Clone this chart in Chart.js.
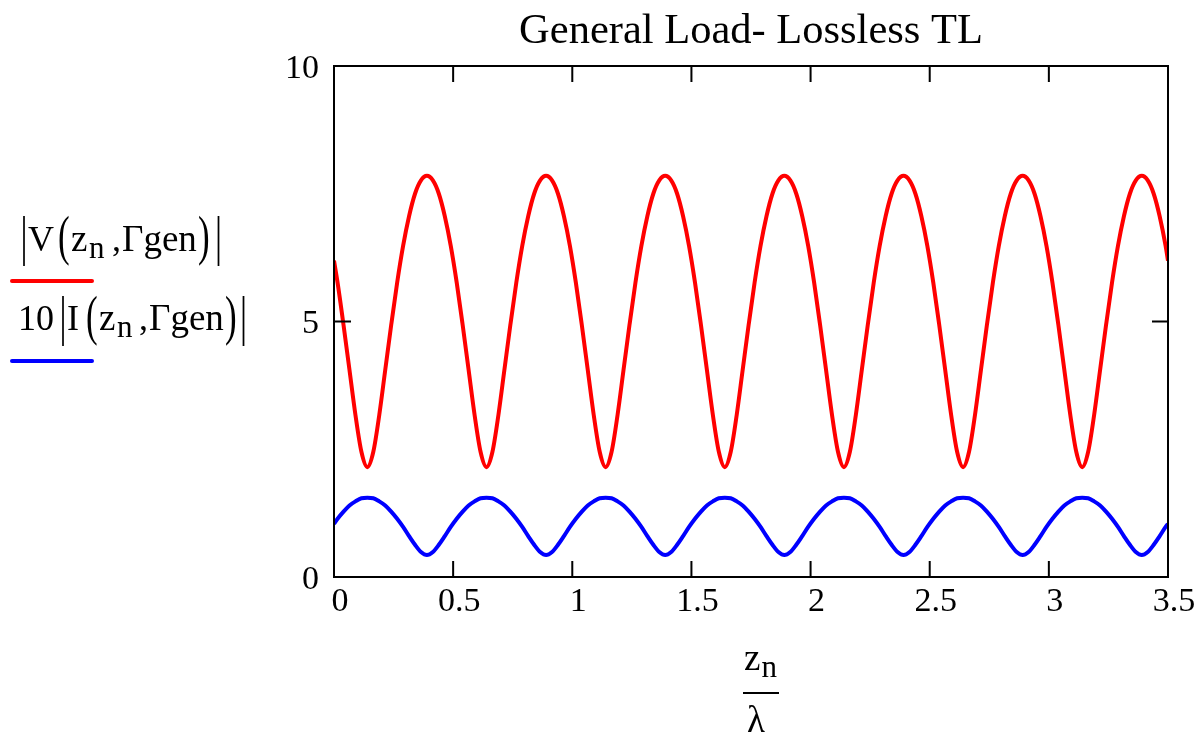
<!DOCTYPE html>
<html lang="en">
<head>
    <meta charset="UTF-8">
    <title>General Load- Lossless TL</title>
    <script src="https://cdn.jsdelivr.net/npm/chart.js"></script>
    <style>
        body {
            margin: 0;
            background-color: #ffffff;
        }
        .wrap {
            width: 1198px;
            height: 738px;
        }
    </style>
</head>
<body>
    <div class="wrap">
        <canvas id="tlChart"></canvas>
    </div>

    <script>
        const chartTitle = "General Load- Lossless TL";
        const xTicks = [0, 0.5, 1, 1.5, 2, 2.5, 3, 3.5];
        const yTicks = [0, 5, 10];

        // z_n / lambda
        const zValues = [
            0,
            0.015, 0.04, 0.065, 0.09, 0.115, 0.14, 0.165, 0.19, 0.215, 0.24, 0.265, 0.29, 0.315, 0.34, 0.365, 0.39, 0.415, 0.44, 0.465, 0.49,
            0.515, 0.54, 0.565, 0.59, 0.615, 0.64, 0.665, 0.69, 0.715, 0.74, 0.765, 0.79, 0.815, 0.84, 0.865, 0.89, 0.915, 0.94, 0.965, 0.99,
            1.015, 1.04, 1.065, 1.09, 1.115, 1.14, 1.165, 1.19, 1.215, 1.24, 1.265, 1.29, 1.315, 1.34, 1.365, 1.39, 1.415, 1.44, 1.465, 1.49,
            1.515, 1.54, 1.565, 1.59, 1.615, 1.64, 1.665, 1.69, 1.715, 1.74, 1.765, 1.79, 1.815, 1.84, 1.865, 1.89, 1.915, 1.94, 1.965, 1.99,
            2.015, 2.04, 2.065, 2.09, 2.115, 2.14, 2.165, 2.19, 2.215, 2.24, 2.265, 2.29, 2.315, 2.34, 2.365, 2.39, 2.415, 2.44, 2.465, 2.49,
            2.515, 2.54, 2.565, 2.59, 2.615, 2.64, 2.665, 2.69, 2.715, 2.74, 2.765, 2.79, 2.815, 2.84, 2.865, 2.89, 2.915, 2.94, 2.965, 2.99,
            3.015, 3.04, 3.065, 3.09, 3.115, 3.14, 3.165, 3.19, 3.215, 3.24, 3.265, 3.29, 3.315, 3.34, 3.365, 3.39, 3.415, 3.44, 3.465, 3.49,
            3.5
        ];

        // |V(z_n, Γgen)|
        const vValues = [
            6.19,
            5.76, 4.93, 4.05, 3.17, 2.45, 2.15, 2.45, 3.17, 4.05, 4.93, 5.76, 6.48, 7.06, 7.50, 7.76, 7.85, 7.76, 7.50, 7.06, 6.48,
            5.76, 4.93, 4.05, 3.17, 2.45, 2.15, 2.45, 3.17, 4.05, 4.93, 5.76, 6.48, 7.06, 7.50, 7.76, 7.85, 7.76, 7.50, 7.06, 6.48,
            5.76, 4.93, 4.05, 3.17, 2.45, 2.15, 2.45, 3.17, 4.05, 4.93, 5.76, 6.48, 7.06, 7.50, 7.76, 7.85, 7.76, 7.50, 7.06, 6.48,
            5.76, 4.93, 4.05, 3.17, 2.45, 2.15, 2.45, 3.17, 4.05, 4.93, 5.76, 6.48, 7.06, 7.50, 7.76, 7.85, 7.76, 7.50, 7.06, 6.48,
            5.76, 4.93, 4.05, 3.17, 2.45, 2.15, 2.45, 3.17, 4.05, 4.93, 5.76, 6.48, 7.06, 7.50, 7.76, 7.85, 7.76, 7.50, 7.06, 6.48,
            5.76, 4.93, 4.05, 3.17, 2.45, 2.15, 2.45, 3.17, 4.05, 4.93, 5.76, 6.48, 7.06, 7.50, 7.76, 7.85, 7.76, 7.50, 7.06, 6.48,
            5.76, 4.93, 4.05, 3.17, 2.45, 2.15, 2.45, 3.17, 4.05, 4.93, 5.76, 6.48, 7.06, 7.50, 7.76, 7.85, 7.76, 7.50, 7.06, 6.48,
            6.19
        ];

        // 10 |I(z_n, Γgen)|
        const iValues = [
            1.04,
            1.14, 1.28, 1.40, 1.48, 1.54, 1.55, 1.54, 1.48, 1.40, 1.28, 1.14, 0.98, 0.80, 0.63, 0.49, 0.43, 0.49, 0.63, 0.80, 0.98,
            1.14, 1.28, 1.40, 1.48, 1.54, 1.55, 1.54, 1.48, 1.40, 1.28, 1.14, 0.98, 0.80, 0.63, 0.49, 0.43, 0.49, 0.63, 0.80, 0.98,
            1.14, 1.28, 1.40, 1.48, 1.54, 1.55, 1.54, 1.48, 1.40, 1.28, 1.14, 0.98, 0.80, 0.63, 0.49, 0.43, 0.49, 0.63, 0.80, 0.98,
            1.14, 1.28, 1.40, 1.48, 1.54, 1.55, 1.54, 1.48, 1.40, 1.28, 1.14, 0.98, 0.80, 0.63, 0.49, 0.43, 0.49, 0.63, 0.80, 0.98,
            1.14, 1.28, 1.40, 1.48, 1.54, 1.55, 1.54, 1.48, 1.40, 1.28, 1.14, 0.98, 0.80, 0.63, 0.49, 0.43, 0.49, 0.63, 0.80, 0.98,
            1.14, 1.28, 1.40, 1.48, 1.54, 1.55, 1.54, 1.48, 1.40, 1.28, 1.14, 0.98, 0.80, 0.63, 0.49, 0.43, 0.49, 0.63, 0.80, 0.98,
            1.14, 1.28, 1.40, 1.48, 1.54, 1.55, 1.54, 1.48, 1.40, 1.28, 1.14, 0.98, 0.80, 0.63, 0.49, 0.43, 0.49, 0.63, 0.80, 0.98,
            1.04
        ];

        const serif = "'Liberation Serif', 'Times New Roman', serif";

        function tall(ctx, ch, x, base) {
            ctx.save();
            ctx.translate(x, base);
            ctx.scale(1, 1.57);
            ctx.font = "35px " + serif;
            ctx.fillText(ch, 0, 0);
            ctx.restore();
        }

        function txt(ctx, s, x, base, size) {
            ctx.font = size + "px " + serif;
            ctx.fillText(s, x, base);
        }

        // frame with inward ticks, mathcad style legend and x label
        const mathcadLook = {
            id: 'mathcadLook',
            afterDatasetsDraw(chart) {
                const ctx = chart.ctx;
                const a = chart.chartArea;
                const xs = chart.scales.x;
                const ys = chart.scales.y;
                ctx.save();
                ctx.strokeStyle = '#000';
                ctx.lineWidth = 2;
                ctx.strokeRect(a.left, a.top, a.right - a.left, a.bottom - a.top);
                ctx.beginPath();
                xs.ticks.forEach(t => {
                    const px = xs.getPixelForValue(t.value);
                    ctx.moveTo(px, a.bottom); ctx.lineTo(px, a.bottom - 16);
                    ctx.moveTo(px, a.top); ctx.lineTo(px, a.top + 16);
                });
                ys.ticks.forEach(t => {
                    const py = ys.getPixelForValue(t.value);
                    ctx.moveTo(a.left, py); ctx.lineTo(a.left + 17, py);
                    ctx.moveTo(a.right, py); ctx.lineTo(a.right - 16, py);
                });
                ctx.stroke();
                ctx.restore();
            },
            afterDraw(chart) {
                const ctx = chart.ctx;
                ctx.save();
                ctx.fillStyle = '#000';
                ctx.textBaseline = 'alphabetic';
                ctx.textAlign = 'left';

                // |V(zn, Γgen)|
                tall(ctx, '|', 20.5, 254);
                txt(ctx, 'V', 28, 251, 36);
                tall(ctx, '(', 58, 254);
                txt(ctx, 'z', 71, 251, 37);
                txt(ctx, 'n', 89, 258, 31);
                txt(ctx, ',', 112, 251, 36);
                txt(ctx, 'Γgen', 122, 251, 37);
                tall(ctx, ')', 198, 254);
                tall(ctx, '|', 215, 254);

                // 10 |I(zn, Γgen)|
                txt(ctx, '10', 18, 330, 36);
                tall(ctx, '|', 59.5, 334);
                txt(ctx, 'I', 67, 330, 36);
                tall(ctx, '(', 86, 334);
                txt(ctx, 'z', 99, 330, 37);
                txt(ctx, 'n', 117, 337, 31);
                txt(ctx, ',', 139, 330, 36);
                txt(ctx, 'Γgen', 149, 330, 37);
                tall(ctx, ')', 225, 334);
                tall(ctx, '|', 240, 334);

                ctx.lineCap = 'round';
                ctx.lineWidth = 4;
                ctx.strokeStyle = '#ff0000';
                ctx.beginPath(); ctx.moveTo(12, 281); ctx.lineTo(92, 281); ctx.stroke();
                ctx.strokeStyle = '#0000ff';
                ctx.beginPath(); ctx.moveTo(12, 361); ctx.lineTo(92, 361); ctx.stroke();

                // zn / λ
                txt(ctx, 'z', 744, 670, 37);
                txt(ctx, 'n', 761.5, 677, 31);
                ctx.lineCap = 'butt';
                ctx.lineWidth = 2;
                ctx.strokeStyle = '#000';
                ctx.beginPath(); ctx.moveTo(743, 693); ctx.lineTo(779, 693); ctx.stroke();
                txt(ctx, 'λ', 747, 731.5, 37);
                ctx.restore();
            }
        };

        const ctx = document.getElementById('tlChart').getContext('2d');
        const chart = new Chart(ctx, {
            type: 'line',
            data: {
                datasets: [
                    {
                        label: '|V(zn, Γgen)|',
                        data: zValues.map((z, i) => ({ x: z, y: vValues[i] })),
                        borderColor: '#ff0000',
                        borderWidth: 4,
                        pointRadius: 0,
                        cubicInterpolationMode: 'monotone'
                    },
                    {
                        label: '10 |I(zn, Γgen)|',
                        data: zValues.map((z, i) => ({ x: z, y: iValues[i] })),
                        borderColor: '#0000ff',
                        borderWidth: 4,
                        pointRadius: 0,
                        cubicInterpolationMode: 'monotone'
                    }
                ]
            },
            options: {
                responsive: true,
                maintainAspectRatio: false,
                animation: false,
                layout: {
                    padding: { left: 0, right: 30, top: 0, bottom: 0 }
                },
                plugins: {
                    legend: { display: false },
                    tooltip: { enabled: false },
                    title: {
                        display: true,
                        text: chartTitle,
                        fullSize: false,
                        color: '#000',
                        font: { family: serif, size: 42.5, weight: 'normal' },
                        padding: { top: 6, bottom: 9 }
                    }
                },
                scales: {
                    x: {
                        type: 'linear',
                        min: 0,
                        max: 3.5,
                        afterBuildTicks: s => { s.ticks = xTicks.map(v => ({ value: v })); },
                        afterFit: s => { s.height = 161; },
                        grid: { display: false, drawTicks: false },
                        border: { display: false },
                        ticks: {
                            color: '#000',
                            font: { family: serif, size: 34 },
                            padding: 5,
                            labelOffset: 6,
                            maxRotation: 0,
                            callback: v => String(v)
                        }
                    },
                    y: {
                        min: 0,
                        max: 10,
                        afterBuildTicks: s => { s.ticks = yTicks.map(v => ({ value: v })); },
                        afterFit: s => { s.width = 334; },
                        grid: { display: false, drawTicks: false },
                        border: { display: false },
                        ticks: {
                            color: '#000',
                            font: { family: serif, size: 34 },
                            padding: 15,
                            labelOffset: 3,
                            callback: v => String(v)
                        }
                    }
                }
            },
            plugins: [mathcadLook]
        });
    </script>
</body>
</html>
